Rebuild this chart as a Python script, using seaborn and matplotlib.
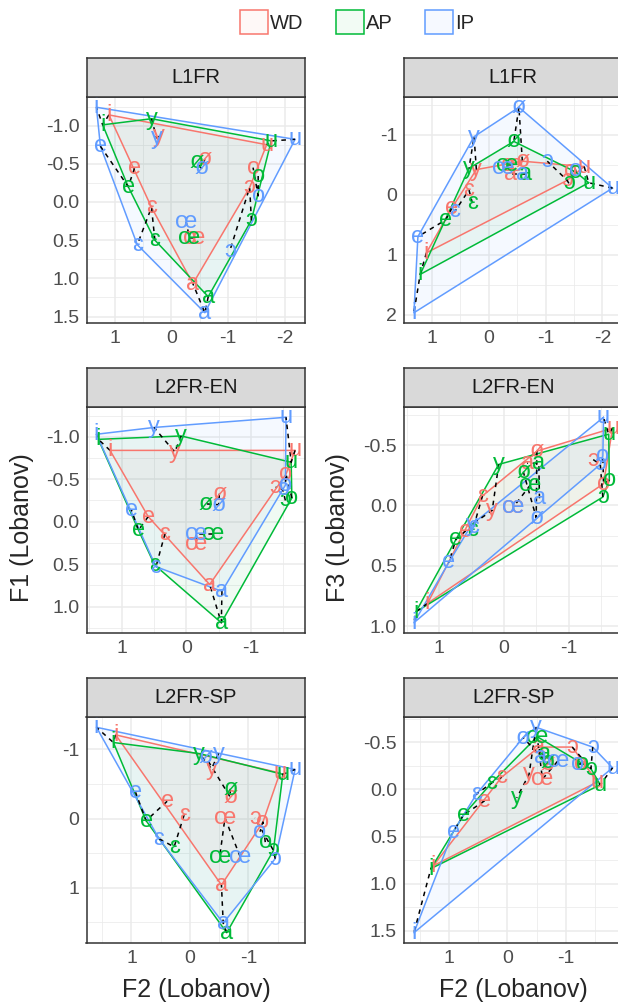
import numpy as np
import pandas as pd
import matplotlib
matplotlib.use("Agg")
import matplotlib.pyplot as plt
import seaborn as sns
from matplotlib.patches import Patch
from matplotlib.ticker import MultipleLocator, AutoMinorLocator, FuncFormatter

# vowels and groups
vowels = ["i", "y", "u", "e", "ø", "o", "ɛ", "œ", "ɔ", "a"]
groups = ["WD", "AP", "IP"]
learners = ["L1FR", "L2FR-EN", "L2FR-SP"]
colors = {"WD": "#F8766D", "AP": "#00BA38", "IP": "#619CFF"}

# L1FR (Lobanov normalised)
L1FR_WD_F2 = [1.10, 0.22, -1.68, 0.65, -0.59, -1.44, 0.35, -0.41, -1.38, -0.38]
L1FR_AP_F2 = [1.21, 0.35, -1.76, 0.76, -0.44, -1.53, 0.29, -0.32, -1.41, -0.65]
L1FR_IP_F2 = [1.32, 0.26, -2.18, 1.25, -0.53, -1.53, 0.60, -0.26, -1.03, -0.59]
L1FR_WD_F1 = [-1.14, -0.86, -0.75, -0.44, -0.56, -0.45, 0.07, 0.47, -0.19, 1.07]
L1FR_AP_F1 = [-1.01, -1.09, -0.80, -0.20, -0.52, -0.34, 0.50, 0.47, 0.24, 1.24]
L1FR_IP_F1 = [-1.24, -0.84, -0.82, -0.73, -0.44, -0.08, 0.56, 0.26, 0.64, 1.45]
L1FR_WD_F3 = [0.97, -0.42, -0.47, 0.22, -0.56, -0.40, -0.08, -0.50, -0.24, -0.34]
L1FR_AP_F3 = [1.33, -0.44, -0.20, 0.42, -0.89, -0.38, 0.14, -0.50, -0.19, -0.34]
L1FR_IP_F3 = [1.97, -0.97, -0.11, 0.70, -1.46, -0.42, 0.28, -0.44, -0.56, -0.34]

# L2FR-EN
L2EN_WD_F2 = [1.18, 0.18, -1.68, 0.59, -0.51, -1.54, 0.33, -0.15, -1.38, -0.36]
L2EN_AP_F2 = [1.36, 0.08, -1.62, 0.74, -0.30, -1.63, 0.49, -0.41, -1.53, -0.54]
L2EN_IP_F2 = [1.39, 0.50, -1.54, 0.85, -0.50, -1.53, 0.47, -0.15, -1.49, -0.55]
L2EN_WD_F1 = [-0.84, -0.82, -0.84, -0.06, -0.33, -0.56, 0.14, 0.26, -0.41, 0.74]
L2EN_AP_F1 = [-0.97, -1.01, -0.70, 0.10, -0.21, -0.28, 0.51, 0.14, -0.25, 1.19]
L2EN_IP_F1 = [-1.03, -1.11, -1.23, -0.14, -0.20, -0.43, 0.53, 0.14, -0.38, 0.82]
L2EN_WD_F3 = [0.81, 0.04, -0.64, 0.21, -0.45, -0.18, -0.08, 0.01, -0.38, -0.35]
L2EN_AP_F3 = [0.88, -0.34, -0.59, 0.28, -0.28, -0.21, 0.20, -0.17, -0.07, -0.35]
L2EN_IP_F3 = [0.97, 0.16, -0.73, 0.47, 0.10, -0.41, 0.18, 0.01, -0.34, -0.06]

# L2FR-SP
L2SP_WD_F2 = [1.27, -0.37, -1.54, 0.39, -0.69, -1.25, 0.10, -0.60, -1.11, -0.54]
L2SP_AP_F2 = [1.31, -0.16, -1.59, 0.75, -0.69, -1.29, 0.27, -0.51, -1.43, -0.63]
L2SP_IP_F2 = [1.60, -0.49, -1.80, 0.93, -0.27, -1.20, 0.53, -0.86, -1.46, -0.57]
L2SP_WD_F1 = [-1.21, -0.72, -0.66, -0.25, -0.31, 0.05, -0.05, -0.01, -0.01, 0.96]
L2SP_AP_F1 = [-1.10, -0.94, -0.64, 0.03, -0.43, 0.34, 0.41, 0.55, 0.46, 1.65]
L2SP_IP_F1 = [-1.32, -0.94, -0.71, -0.38, -0.89, 0.19, 0.29, 0.55, 0.58, 1.51]
L2SP_WD_F3 = [0.81, -0.16, -0.08, 0.12, -0.27, -0.27, -0.13, -0.11, -0.45, -0.45]
L2SP_AP_F3 = [0.84, 0.09, -0.05, 0.27, -0.29, -0.27, -0.07, -0.56, -0.22, -0.38]
L2SP_IP_F3 = [1.52, -0.66, -0.23, 0.45, -0.55, -0.27, 0.05, -0.30, -0.45, -0.34]

table = {
    ("L1FR", "WD"): (L1FR_WD_F1, L1FR_WD_F2, L1FR_WD_F3),
    ("L1FR", "AP"): (L1FR_AP_F1, L1FR_AP_F2, L1FR_AP_F3),
    ("L1FR", "IP"): (L1FR_IP_F1, L1FR_IP_F2, L1FR_IP_F3),
    ("L2FR-EN", "WD"): (L2EN_WD_F1, L2EN_WD_F2, L2EN_WD_F3),
    ("L2FR-EN", "AP"): (L2EN_AP_F1, L2EN_AP_F2, L2EN_AP_F3),
    ("L2FR-EN", "IP"): (L2EN_IP_F1, L2EN_IP_F2, L2EN_IP_F3),
    ("L2FR-SP", "WD"): (L2SP_WD_F1, L2SP_WD_F2, L2SP_WD_F3),
    ("L2FR-SP", "AP"): (L2SP_AP_F1, L2SP_AP_F2, L2SP_AP_F3),
    ("L2FR-SP", "IP"): (L2SP_IP_F1, L2SP_IP_F2, L2SP_IP_F3),
}
rows = []
for (lang, grp), (f1, f2, f3) in table.items():
    for v, a, b, c in zip(vowels, f1, f2, f3):
        rows.append({"lang": lang, "group": grp, "vowel": v, "F1": a, "F2": b, "F3": c})
df = pd.DataFrame(rows)


def convex_hull(pts):
    pts = sorted(set(map(tuple, pts)))
    def cross(o, a, b):
        return (a[0] - o[0]) * (b[1] - o[1]) - (a[1] - o[1]) * (b[0] - o[0])
    lower, upper = [], []
    for p in pts:
        while len(lower) >= 2 and cross(lower[-2], lower[-1], p) <= 0:
            lower.pop()
        lower.append(p)
    for p in reversed(pts):
        while len(upper) >= 2 and cross(upper[-2], upper[-1], p) <= 0:
            upper.pop()
        upper.append(p)
    return np.array(lower[:-1] + upper[:-1])


sns.set_style("white")
plt.rcParams["font.family"] = ["Liberation Sans", "DejaVu Sans"]
plt.rcParams["axes.unicode_minus"] = False

W, H = 618, 1008
fig = plt.figure(figsize=(W / 100, H / 100), dpi=100)

col_left = {"F1": 86.5, "F3": 404}
panel_w = 218.5
ystep = {("L1FR", "F1"): 0.5, ("L1FR", "F3"): 1,
         ("L2FR-EN", "F1"): 0.5, ("L2FR-EN", "F3"): 0.5,
         ("L2FR-SP", "F1"): 1, ("L2FR-SP", "F3"): 0.5}


def fmt(step):
    if step < 1:
        return FuncFormatter(lambda v, p: f"{round(v, 2) + 0.0:.1f}")
    return FuncFormatter(lambda v, p: f"{int(round(v))}")


for r, lang in enumerate(learners):
    strip_top = 58 + 310 * r
    plot_top = 97 + 310 * r
    plot_bot = 323 + 310 * r
    for fy in ["F1", "F3"]:
        x0 = col_left[fy]
        ax = fig.add_axes([x0 / W, 1 - plot_bot / H, panel_w / W, (plot_bot - plot_top) / H])
        sub = df[df["lang"] == lang]
        for g in groups:
            s = sub[sub["group"] == g]
            hull = convex_hull(s[["F2", fy]].values)
            ax.fill(hull[:, 0], hull[:, 1], color=colors[g], alpha=0.06, lw=0, zorder=2)
            closed = np.vstack([hull, hull[:1]])
            ax.plot(closed[:, 0], closed[:, 1], color=colors[g], lw=1.1, zorder=3)
        sns.lineplot(data=sub, x="F2", y=fy, units="vowel", estimator=None, sort=True,
                     color="black", lw=1.1, linestyle=(0, (3, 3)), ax=ax, legend=False, zorder=4)
        for g in groups:
            s = sub[sub["group"] == g]
            for _, row in s.iterrows():
                ax.text(row["F2"], row[fy], row["vowel"], color=colors[g], fontsize=17,
                        ha="center", va="center", zorder=5)
        ax.margins(0.05)
        ax.invert_xaxis()
        ax.invert_yaxis()
        ax.set_xlabel("")
        ax.set_ylabel("")
        ax.xaxis.set_major_locator(MultipleLocator(1))
        ax.xaxis.set_minor_locator(AutoMinorLocator(2))
        ax.xaxis.set_major_formatter(fmt(1))
        st = ystep[(lang, fy)]
        ax.yaxis.set_major_locator(MultipleLocator(st))
        ax.yaxis.set_minor_locator(AutoMinorLocator(2))
        ax.yaxis.set_major_formatter(fmt(st))
        ax.grid(True, which="major", color="#EBEBEB", lw=1.1)
        ax.grid(True, which="minor", color="#EBEBEB", lw=0.55)
        ax.set_axisbelow(True)
        ax.tick_params(which="major", length=3, width=1.1, color="#333333",
                       labelcolor="#4D4D4D", labelsize=14, pad=2, direction="out")
        ax.tick_params(which="minor", length=0)
        for sp in ax.spines.values():
            sp.set_color("#333333")
            sp.set_linewidth(1.1)
        # facet strip
        sax = fig.add_axes([x0 / W, 1 - plot_top / H, panel_w / W, (plot_top - strip_top) / H])
        sax.set_facecolor("#D9D9D9")
        sax.set_xticks([])
        sax.set_yticks([])
        for sp in sax.spines.values():
            sp.set_color("#333333")
            sp.set_linewidth(1.1)
        sax.text(0.5, 0.5, lang, ha="center", va="center", fontsize=14.5, color="#1A1A1A",
                 transform=sax.transAxes)

fig.text(22 / W, 1 - 528 / H, "F1 (Lobanov)", rotation=90, ha="center", va="center", fontsize=18)
fig.text(338 / W, 1 - 528 / H, "F3 (Lobanov)", rotation=90, ha="center", va="center", fontsize=18)
fig.text(196 / W, 1 - 990 / H, "F2 (Lobanov)", ha="center", va="center", fontsize=18)
fig.text(513 / W, 1 - 990 / H, "F2 (Lobanov)", ha="center", va="center", fontsize=18)

handles = [Patch(facecolor=matplotlib.colors.to_rgba(colors[g], 0.05), edgecolor=colors[g], lw=1.1)
           for g in groups]
fig.legend(handles, groups, loc="center", bbox_to_anchor=(357 / W, 1 - 22 / H), ncol=3,
           frameon=False, fontsize=14.5, handlelength=1.4, handleheight=1.4,
           handletextpad=0.1, columnspacing=1.6, borderpad=0)

fig.savefig("out.png", dpi=100)
